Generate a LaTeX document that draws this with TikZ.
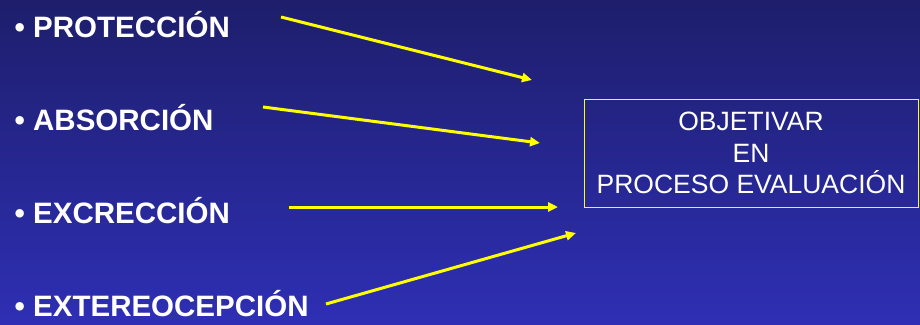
\documentclass[tikz,border=0pt]{standalone}
\usepackage{fontspec}
\setmainfont{Liberation Sans}
\usetikzlibrary{arrows.meta}
\definecolor{bgtop}{RGB}{30,30,108}
\definecolor{bgbot}{RGB}{46,47,180}
\definecolor{arrowyellow}{RGB}{255,255,0}
\begin{document}
\begin{tikzpicture}[x=1pt,y=-1pt,
  itemlabel/.style={anchor=base west,inner sep=0pt,text=white,font=\bfseries\fontsize{29.5}{34}\selectfont},
  goalbox/.style={draw=arrowyellow,line width=1pt,text=white,align=center,
    minimum width=334pt,minimum height=108pt,inner sep=0pt,
    font=\fontsize{26.5}{31.5}\selectfont},
  yarrow/.style={draw=arrowyellow,line width=3pt,-{Triangle[length=10pt,width=9pt]}}]
\useasboundingbox (0,0) rectangle (920,324);
\shade[top color=bgtop,bottom color=bgbot] (0,0) rectangle (920,324);
\node[itemlabel] (prot) at (14.5,37) {• PROTECCIÓN};
\node[itemlabel] (abs) at (14.5,130) {• ABSORCIÓN};
\node[itemlabel] (exc) at (14.5,223) {• EXCRECCIÓN};
\node[itemlabel] (ext) at (14.5,316) {• EXTEREOCEPCIÓN};
\node[goalbox] (goal) at (751,153) {OBJETIVAR\\EN\\PROCESO EVALUACIÓN};
\coordinate (s1) at (281,17);  \coordinate (e1) at (532,80);
\coordinate (s2) at (263,107); \coordinate (e2) at (540,143);
\coordinate (s3) at (289,207); \coordinate (e3) at (558,207);
\coordinate (s4) at (326,304); \coordinate (e4) at (576,233);
\draw[yarrow] (s1) -- (e1);
\draw[yarrow] (s2) -- (e2);
\draw[yarrow] (s3) -- (e3);
\draw[yarrow] (s4) -- (e4);
\end{tikzpicture}
\end{document}
